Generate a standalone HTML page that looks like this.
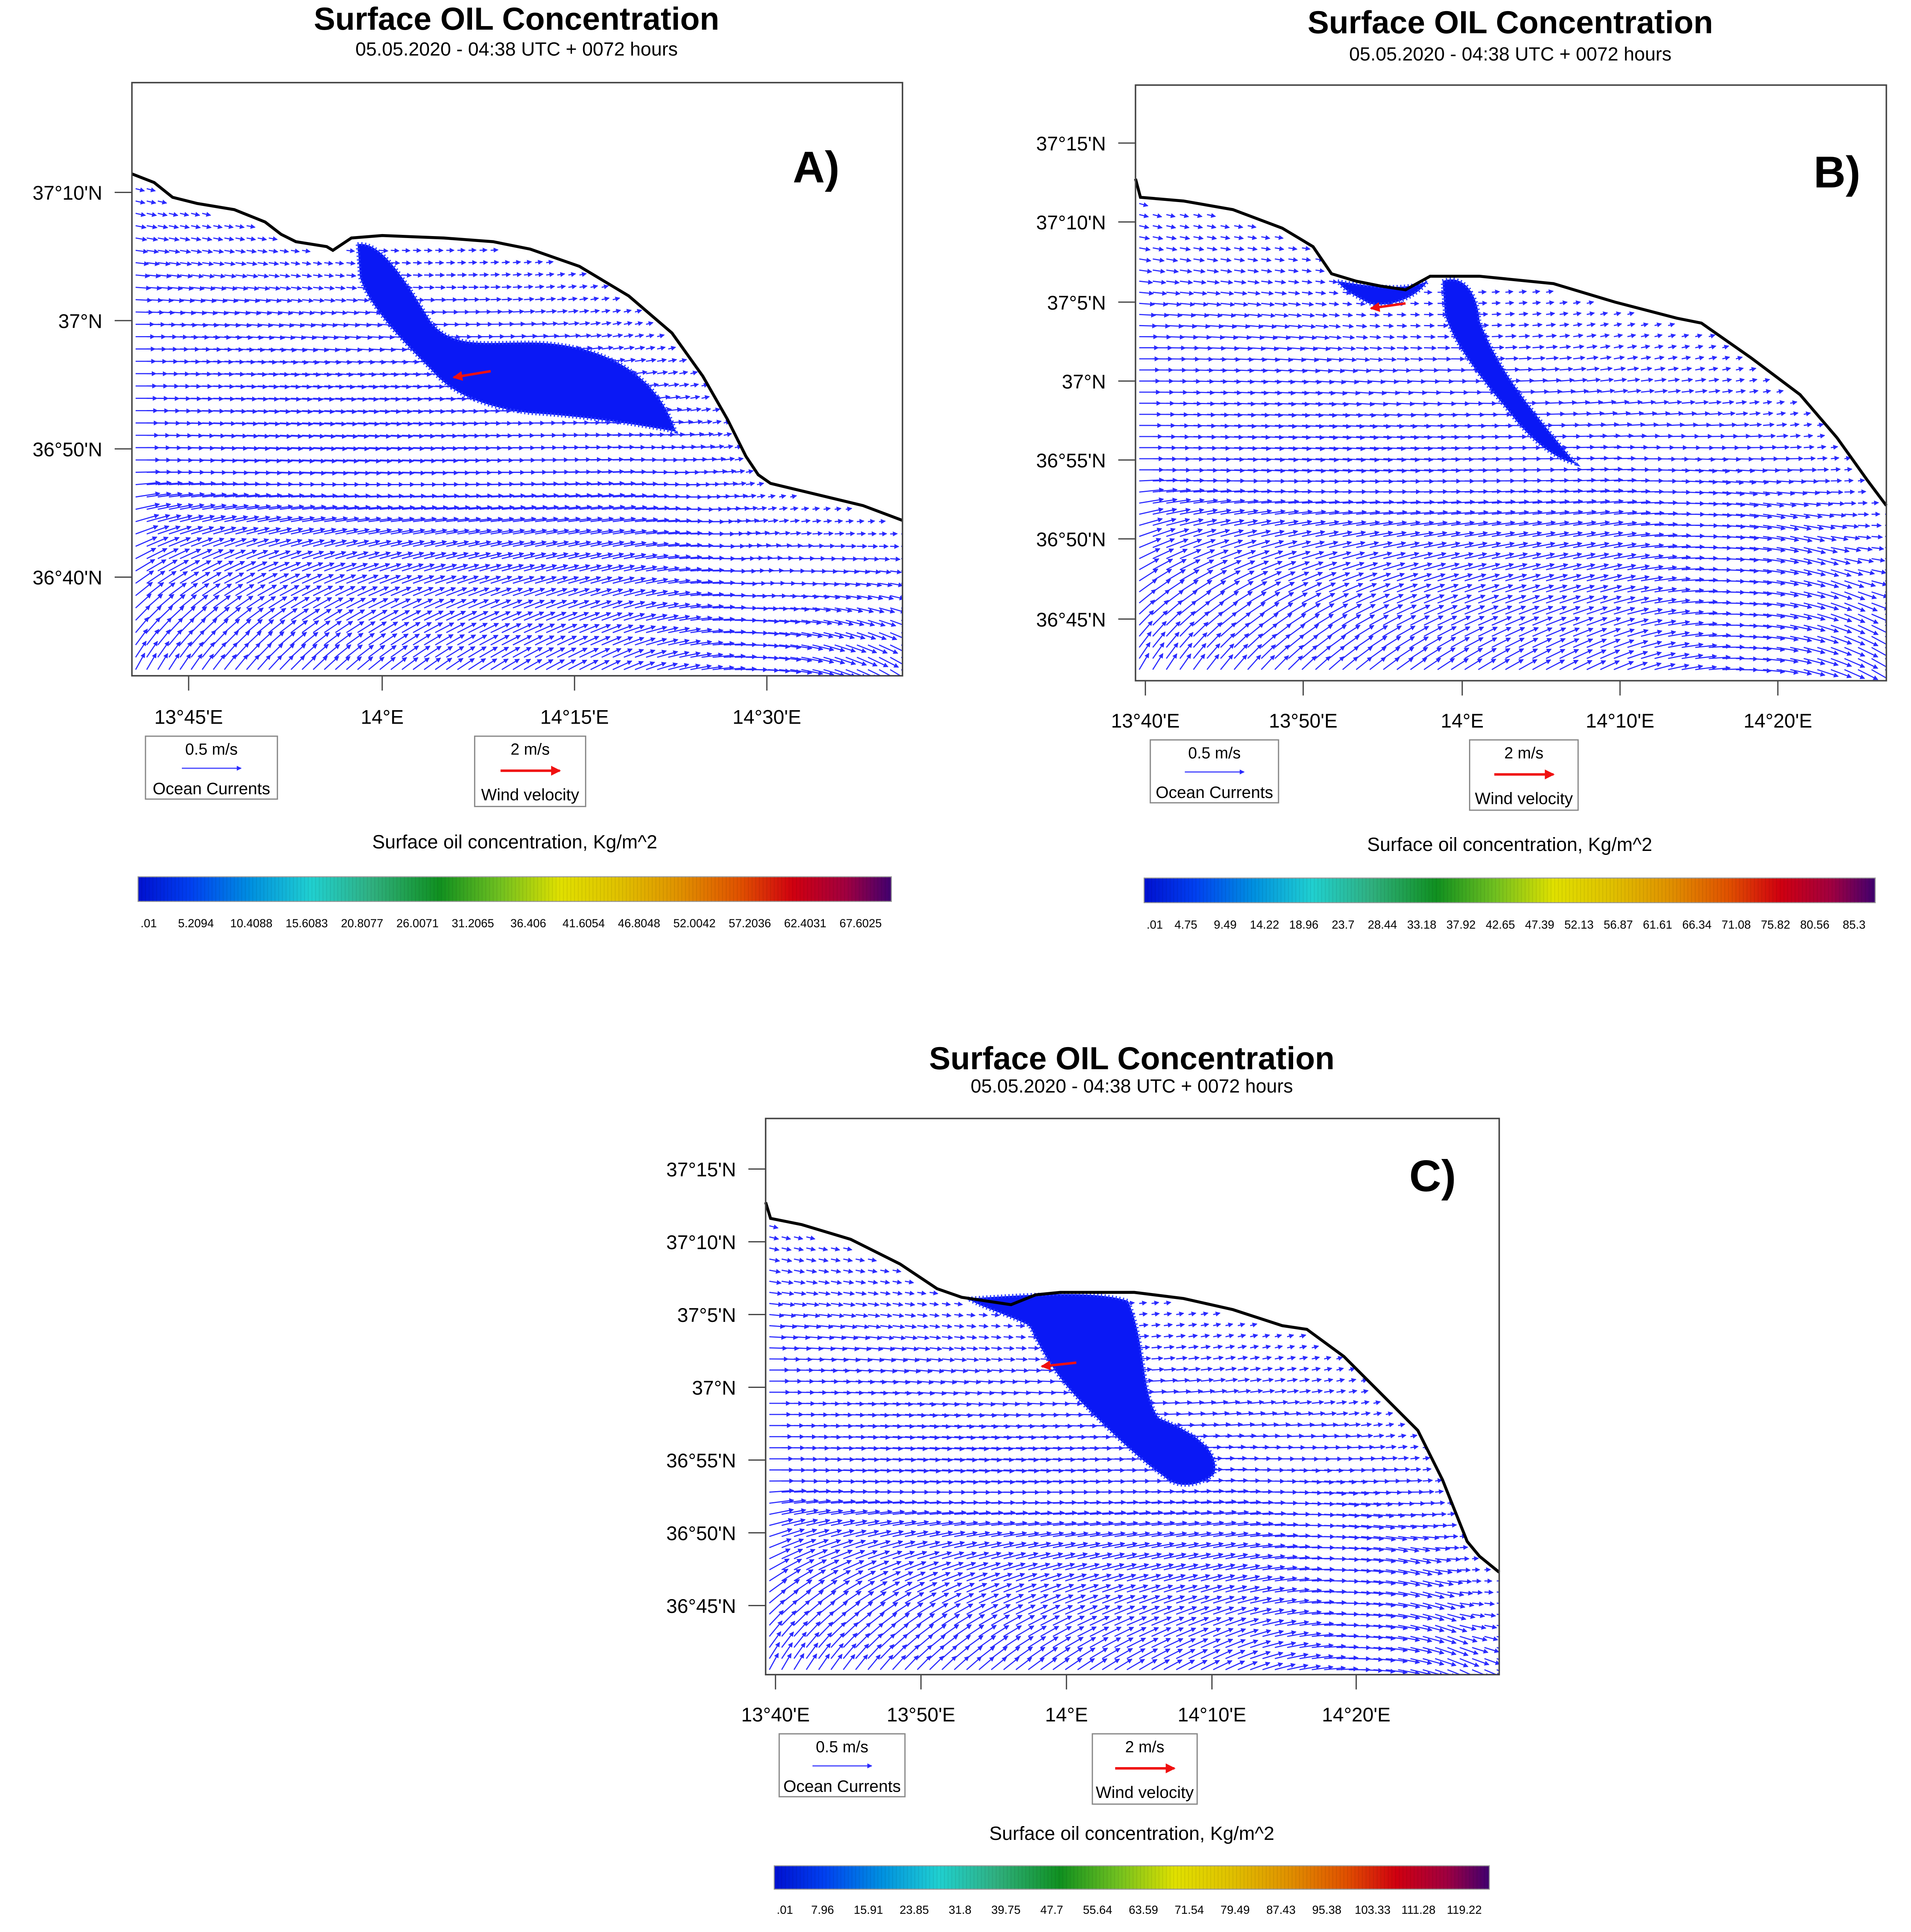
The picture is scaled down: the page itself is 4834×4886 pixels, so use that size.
<!DOCTYPE html>
<html><head><meta charset="utf-8"><style>
html,body{margin:0;padding:0;background:#fff}
svg{display:block}
text{font-family:"Liberation Sans",sans-serif;fill:#000}
</style></head><body>
<svg id="fig" xmlns="http://www.w3.org/2000/svg" width="4834" height="4886" viewBox="0 0 1550 1566.7" preserveAspectRatio="none">
<defs>
<linearGradient id="cb" x1="0" x2="1" y1="0" y2="0">
<stop offset="0" stop-color="#0010d0"/><stop offset="0.07" stop-color="#0040f0"/><stop offset="0.15" stop-color="#0090e0"/>
<stop offset="0.23" stop-color="#20d0d0"/><stop offset="0.31" stop-color="#30b080"/><stop offset="0.4" stop-color="#109020"/>
<stop offset="0.48" stop-color="#70c020"/><stop offset="0.56" stop-color="#e0e000"/><stop offset="0.64" stop-color="#e0c000"/>
<stop offset="0.72" stop-color="#e09000"/><stop offset="0.8" stop-color="#e05000"/><stop offset="0.87" stop-color="#d00010"/>
<stop offset="0.94" stop-color="#a00040"/><stop offset="1" stop-color="#400070"/>
</linearGradient>
<marker id="ah" markerWidth="4" markerHeight="4" refX="3.5" refY="2" orient="auto" markerUnits="userSpaceOnUse"><path d="M0,0 L4,2 L0,4 Z" fill="#2a2aff"/></marker>
<marker id="ahr" markerWidth="8" markerHeight="8" refX="7" refY="4" orient="auto" markerUnits="userSpaceOnUse"><path d="M0,0 L8,4 L0,8 Z" fill="#f01010"/></marker>
</defs>
<g id="root"></g>
</svg>
<script>
const NS="http://www.w3.org/2000/svg";
const root=document.getElementById('root');
function el(tag,attrs,parent,txt){const e=document.createElementNS(NS,tag);for(const k in attrs)e.setAttribute(k,attrs[k]);if(txt!==undefined)e.textContent=txt;(parent||root).appendChild(e);return e;}

const cbLabelsA=[".01","5.2094","10.4088","15.6083","20.8077","26.0071","31.2065","36.406","41.6054","46.8048","52.0042","57.2036","62.4031","67.6025"];
const cbLabelsB=[".01","4.75","9.49","14.22","18.96","23.7","28.44","33.18","37.92","42.65","47.39","52.13","56.87","61.61","66.34","71.08","75.82","80.56","85.3"];
const cbLabelsC=[".01","7.96","15.91","23.85","31.8","39.75","47.7","55.64","63.59","71.54","79.49","87.43","95.38","103.33","111.28","119.22"];
const latA=["37°10'N","37°N","36°50'N","36°40'N"];
const lonA=["13°45'E","14°E","14°15'E","14°30'E"];
const latBC=["37°15'N","37°10'N","37°5'N","37°N","36°55'N","36°50'N","36°45'N"];
const lonBC=["13°40'E","13°50'E","14°E","14°10'E","14°20'E"];

const panels=[
 {id:'a',letter:'A)',box:[107,67,732,548],tc:419,ty:[15,40],
  yt:[156,260,364,468],yl:latA,xt:[153,310,466,622],xl:lonA,xly:581,
  coast:[[107,141],[125,148],[140,160],[160,165],[190,170],[215,180],[228,190],[240,196],[265,200],[270,203],[285,193],[310,191],[360,193],[400,196],[430,202],[470,216],[510,240],[545,270],[570,305],[590,340],[605,370],[615,385],[625,392],[650,398],[700,410],[732,422]],
  oil:["M290,198 C310,195 330,230 350,262 C370,285 400,276 440,278 C500,282 535,310 548,350 C520,345 480,338 430,335 C390,330 365,318 350,300 C330,280 300,250 292,225 Z"],
  wind:[398,301,368,306],lx:[118,225,385,475],ly:597,cbl:682,cb:[112,723,711,731],cbly:748,labels:cbLabelsA,letterPos:[662,148],dx:9,dy:10},
 {id:'b',letter:'B)',box:[921,69,1530,552],tc:1225,ty:[18,44],
  yt:[116,180,245,309,373,437,502],yl:latBC,xt:[929,1057,1186,1314,1442],xl:lonBC,xly:584,
  coast:[[921,145],[925,160],[960,163],[1000,170],[1040,185],[1065,200],[1080,222],[1100,228],[1120,232],[1140,235],[1160,224],[1200,224],[1260,230],[1310,245],[1360,258],[1380,262],[1420,290],[1460,320],[1490,355],[1515,390],[1530,410]],
  oil:["M1085,228 C1110,232 1140,236 1158,228 C1150,240 1130,250 1110,246 C1100,240 1090,236 1085,228 Z","M1170,228 C1185,222 1198,235 1200,260 C1215,300 1240,330 1278,376 C1260,372 1240,355 1225,335 C1200,305 1180,280 1172,255 Z"],
  wind:[1140,246,1112,250],lx:[933,1037,1192,1280],ly:600,cbl:684,cb:[928,1521,712,732],cbly:749,labels:cbLabelsB,letterPos:[1490,152],dx:11,dy:9},
 {id:'c',letter:'C)',box:[621,907,1216,1358],tc:918,ty:[858,881],
  yt:[948,1007,1066,1125,1184,1243,1302],yl:latBC,xt:[629,747,865,983,1100],xl:lonBC,xly:1390,
  coast:[[621,975],[625,988],[650,993],[690,1005],[730,1025],[760,1045],[780,1052],[800,1055],[820,1058],[840,1050],[860,1048],[920,1048],[960,1053],[1000,1062],[1040,1075],[1060,1078],[1090,1100],[1120,1130],[1150,1160],[1170,1200],[1190,1250],[1200,1262],[1216,1275]],
  oil:["M785,1053 C830,1050 890,1046 915,1055 C930,1090 925,1130 940,1150 C965,1160 990,1175 985,1195 C975,1205 955,1208 945,1198 C920,1180 900,1160 880,1140 C855,1115 845,1095 835,1075 C815,1065 795,1060 785,1053 Z"],
  wind:[873,1105,845,1108],lx:[632,734,886,971],ly:1406,cbl:1486,cb:[628,1208,1513,1532],cbly:1548,labels:cbLabelsC,letterPos:[1162,966],dx:10,dy:9}
];

function coastY(c,x){for(let i=0;i<c.length-1;i++){if(x>=c[i][0]&&x<=c[i+1][0]){const t=(x-c[i][0])/(c[i+1][0]-c[i][0]||1);return c[i][1]+t*(c[i+1][1]-c[i][1]);}}return c[c.length-1][1];}

panels.forEach(p=>{
 const g=el('g',{},root);
 
 
 const [x0,y0,x1,y1]=p.box;
 const t=el('text',{x:p.tc,y:p.ty[0]+9,'font-size':26,'font-weight':'bold','text-anchor':'middle'},g,'Surface OIL Concentration');
 
 
 const st=el('text',{x:p.tc,y:p.ty[1]+5,'font-size':15.5,'text-anchor':'middle'},g,'05.05.2020 - 04:38 UTC + 0072 hours');
 
 
 const cid='clip'+p.id;
 const cp=el('clipPath',{id:cid},g);
 let pts=p.coast.map(q=>q.join(',')).join(' ')+` ${x1},${y1} ${x0},${y1}`;
 el('polygon',{points:pts},cp);
 const field=el('g',{'clip-path':`url(#${cid})`,stroke:'#2a2aff','stroke-width':0.9,fill:'none'},g);
 
 
 const W=x1-x0,H=y1-y0;
 for(let y=y0+6;y<y1;y+=p.dy){
  for(let x=x0+3;x<x1;x+=p.dx){
   const cy=coastY(p.coast,x);
   if(y<cy+6)continue;
   const u=(x-x0)/W,v=(y-y0)/H;
   const near=Math.max(0,1-(y-cy)/120);
   const low=Math.max(0,v-0.65)/0.35;
   let len=4+14*Math.min(1,v*1.4)*(1-near)+3*(1-u) - 6*low*(1-u);
   let ang=0.06*Math.sin(u*6) - low*(1-u)*1.1 + (u>0.62? (u-0.62)*1.6*v:0) - near*0.8*(u-0.35);
   const ex=x+len*Math.cos(ang),ey=y+len*Math.sin(ang);
   el('line',{x1:x,y1:y,x2:ex.toFixed(1),y2:ey.toFixed(1),'marker-end':'url(#ah)'},field);
  }
 }
 p.oil.forEach(d=>{const o=el('path',{d:d,fill:'#0a18f5',stroke:'#2a3cff','stroke-width':3,'stroke-dasharray':'1 2'},g);
  
  });
 const w=el('line',{x1:p.wind[0],y1:p.wind[1],x2:p.wind[2],y2:p.wind[3],stroke:'#f01010','stroke-width':2,'marker-end':'url(#ahr)'},g);
 
 
 const cl=el('polyline',{points:p.coast.map(q=>q.join(',')).join(' '),fill:'none',stroke:'#000','stroke-width':2.4},g);
 
 
 const fr=el('rect',{x:x0,y:y0,width:W,height:H,fill:'none',stroke:'#444','stroke-width':1.2},g);
 
 
 const lt=el('text',{x:p.letterPos[0],y:p.letterPos[1],'font-size':36,'font-weight':'bold','text-anchor':'middle'},g,p.letter);
 
 
 p.yt.forEach((yy,i)=>{
  el('line',{x1:x0-14,y1:yy,x2:x0,y2:yy,stroke:'#444','stroke-width':1},g);
  const tl=el('text',{x:x0-24,y:yy+6,'font-size':16,'text-anchor':'end'},g,p.yl[i]);
  
  
 });
 p.xt.forEach((xx,i)=>{
  el('line',{x1:xx,y1:y1,x2:xx,y2:y1+12,stroke:'#444','stroke-width':1},g);
  const tl=el('text',{x:xx,y:p.xly+6,'font-size':16,'text-anchor':'middle'},g,p.xl[i]);
  
  
 });
 const [a0,a1,b0,b1]=p.lx, ly=p.ly;
 const l1=el('g',{},g);
 
 
 el('rect',{x:a0,y:ly,width:a1-a0,height:51,fill:'#fff',stroke:'#888','stroke-width':1},l1);
 el('text',{x:(a0+a1)/2,y:ly+15,'font-size':13,'text-anchor':'middle'},l1,'0.5 m/s');
 el('line',{x1:(a0+a1)/2-24,y1:ly+26,x2:(a0+a1)/2+24,y2:ly+26,stroke:'#4a4aff','stroke-width':1,'marker-end':'url(#ah)'},l1);
 el('text',{x:(a0+a1)/2,y:ly+47,'font-size':13.5,'text-anchor':'middle'},l1,'Ocean Currents');
 const l2=el('g',{},g);
 
 
 el('rect',{x:b0,y:ly,width:b1-b0,height:57,fill:'#fff',stroke:'#888','stroke-width':1},l2);
 el('text',{x:(b0+b1)/2,y:ly+15,'font-size':13,'text-anchor':'middle'},l2,'2 m/s');
 el('line',{x1:(b0+b1)/2-24,y1:ly+28,x2:(b0+b1)/2+24,y2:ly+28,stroke:'#f01010','stroke-width':2,'marker-end':'url(#ahr)'},l2);
 el('text',{x:(b0+b1)/2,y:ly+52,'font-size':13.5,'text-anchor':'middle'},l2,'Wind velocity');
 const [c0,c1,cy0,cy1]=p.cb;
 const cbt=el('text',{x:(c0+c1)/2,y:p.cbl+6,'font-size':15.5,'text-anchor':'middle'},g,'Surface oil concentration, Kg/m^2');
 
 
 const cbr=el('rect',{x:c0,y:cy0,width:c1-c0,height:cy1-cy0,fill:'url(#cb)',stroke:'#999','stroke-width':0.8},g);
 
 
 for(let xx=c0;xx<c1;xx+=3)el('line',{x1:xx,y1:cy0,x2:xx,y2:cy1,stroke:'#000','stroke-opacity':0.08,'stroke-width':0.6},g);
 const n=p.labels.length;
 p.labels.forEach((s,i)=>{
  const xx=c0+(c1-c0)*i/(n-1+0.6)+2;
  const tl=el('text',{x:xx,y:p.cbly+4,'font-size':9.5,'text-anchor':i==0?'start':'middle'},g,s);
  
  
 });
});
</script>
</body></html>
